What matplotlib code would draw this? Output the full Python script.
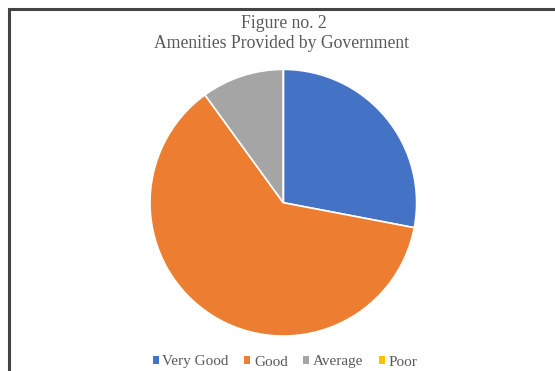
import matplotlib.pyplot as plt
from matplotlib.patches import Rectangle

plt.rcParams['font.family'] = ['Liberation Serif', 'DejaVu Serif']

# data
labels = ['Very Good', 'Good', 'Average', 'Poor']
values = [28, 62, 10, 0]
colors = ['#4472C4', '#ED7D31', '#A5A5A5', '#FFC000']

W, H = 555, 371
fig = plt.figure(figsize=(W / 100, H / 100), dpi=100)

# frame around the chart (right/bottom edges are cut off in the original)
fig.patches.append(Rectangle((9 / W, -0.1), 1.2, (H - 9) / H + 0.1,
                             transform=fig.transFigure, fill=False,
                             edgecolor='#444444', linewidth=2.2))

cx, cy, r = 283.3, 202.7, 133.3
ax = fig.add_axes([(cx - r) / W, (H - cy - r) / H, 2 * r / W, 2 * r / H])
wedges, _ = ax.pie(values, colors=colors, startangle=90, counterclock=False,
                   radius=1.0, wedgeprops=dict(edgecolor='white', linewidth=1.2))
ax.set_xlim(-1, 1)
ax.set_ylim(-1, 1)
ax.set_aspect('equal')

fig.text(284 / W, 1 - 27.5 / H, 'Figure no. 2', ha='center', va='baseline',
         fontsize=12.7, color='#595959')
fig.text(281 / W, 1 - 47.5 / H, 'Amenities Provided by Government', ha='center',
         va='baseline', fontsize=12.7, color='#595959')

leg = fig.legend(wedges, labels, loc='center', bbox_to_anchor=(285 / W, 1 - 362 / H),
                 ncol=4, frameon=False, fontsize=11, handlelength=0.4,
                 handleheight=0.4, handletextpad=0.25, columnspacing=1.0,
                 labelcolor='#595959')
for h in leg.legend_handles:
    h.set_edgecolor('none')

fig.savefig('out.png', dpi=100)
